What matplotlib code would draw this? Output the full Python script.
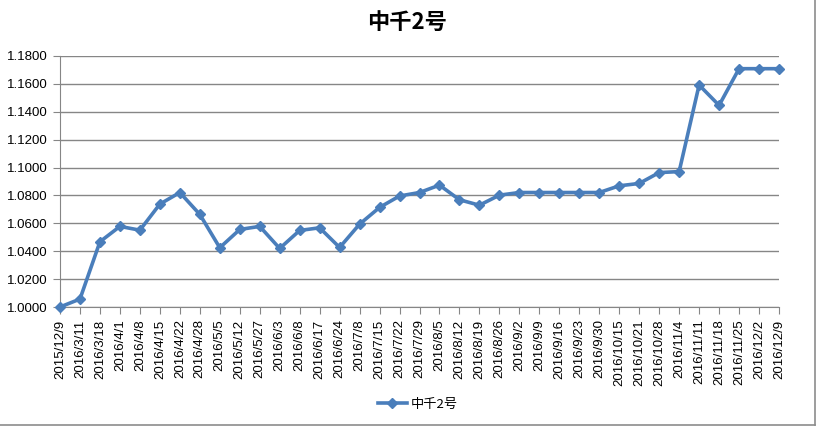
import matplotlib
matplotlib.use("Agg")
import matplotlib.pyplot as plt
from matplotlib.lines import Line2D
from matplotlib.ticker import MultipleLocator, FormatStrFormatter

plt.rcParams['font.family'] = ['Noto Sans CJK SC', 'DejaVu Sans']

# dates on the category axis
dates = ["2015/12/9", "2016/3/11", "2016/3/18", "2016/4/1", "2016/4/8", "2016/4/15",
         "2016/4/22", "2016/4/28", "2016/5/5", "2016/5/12", "2016/5/27", "2016/6/3",
         "2016/6/8", "2016/6/17", "2016/6/24", "2016/7/8", "2016/7/15", "2016/7/22",
         "2016/7/29", "2016/8/5", "2016/8/12", "2016/8/19", "2016/8/26", "2016/9/2",
         "2016/9/9", "2016/9/16", "2016/9/23", "2016/9/30", "2016/10/15", "2016/10/21",
         "2016/10/28", "2016/11/4", "2016/11/11", "2016/11/18", "2016/11/25", "2016/12/2",
         "2016/12/9"]

# net value series
nav = [1.0000, 1.0057, 1.0468, 1.0578, 1.0551, 1.0738, 1.0821, 1.0664, 1.0425, 1.0556,
       1.0578, 1.0420, 1.0549, 1.0568, 1.0427, 1.0594, 1.0714, 1.0796, 1.0821, 1.0874,
       1.0769, 1.0730, 1.0802, 1.0821, 1.0821, 1.0821, 1.0821, 1.0821, 1.0869, 1.0886,
       1.0964, 1.0971, 1.1592, 1.1446, 1.1709, 1.1709, 1.1709]

series_name = "中千2号"
line_color = "#4a7ebb"
grid_color = "#868686"

fig = plt.figure(figsize=(8.16, 4.26), dpi=100)
ax = fig.add_axes([60 / 816, 1 - 307 / 426, (779 - 60) / 816, (307 - 56) / 426])

x = list(range(len(dates)))
ax.plot(x, nav, color=line_color, linewidth=2.6, marker="D", markersize=5.5,
        label=series_name, clip_on=False, zorder=3)

ax.set_xlim(0, len(dates) - 1)
ax.set_ylim(1.0, 1.18)
ax.yaxis.set_major_locator(MultipleLocator(0.02))
ax.yaxis.set_major_formatter(FormatStrFormatter("%.4f"))
ax.set_xticks(x)
ax.set_xticklabels(dates, rotation=90, fontsize=9.5, family=['Liberation Sans'])
for lbl in ax.get_yticklabels():
    lbl.set_fontsize(9.5)
    lbl.set_family(['Liberation Sans'])

ax.grid(axis="y", color=grid_color, linewidth=1)
ax.set_axisbelow(True)
for side in ["top", "right"]:
    ax.spines[side].set_visible(False)
for side in ["left", "bottom"]:
    ax.spines[side].set_color(grid_color)
ax.tick_params(axis="both", direction="out", length=5, color=grid_color, pad=4)

fig.text(407 / 816, 1 - 22 / 426, series_name, fontsize=16, fontweight="bold",
         ha="center", va="center")

fig.legend(loc="center", bbox_to_anchor=(418 / 816, 1 - 404 / 426), frameon=False,
           fontsize=9.5, handlelength=2.2, handletextpad=0.3)

# outer chart frame, only right and bottom edges visible
fig.lines.append(Line2D([814.5 / 816, 814.5 / 816], [1 - 424.5 / 426, 1],
                        transform=fig.transFigure, color="#8c8c8c", linewidth=1.2))
fig.lines.append(Line2D([0, 814.5 / 816], [1 - 424.5 / 426, 1 - 424.5 / 426],
                        transform=fig.transFigure, color="#8c8c8c", linewidth=1.2))

fig.savefig("out.png", dpi=100)
